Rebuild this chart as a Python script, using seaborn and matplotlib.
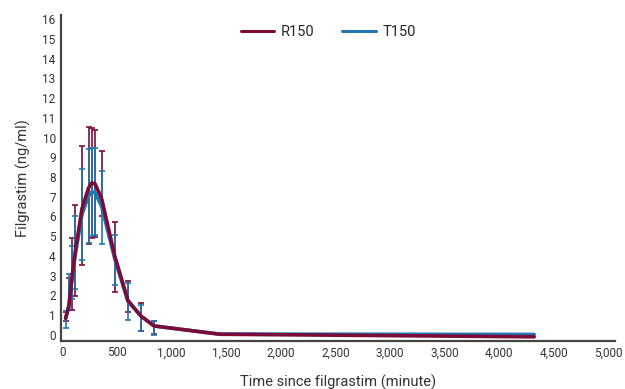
import numpy as np
import pandas as pd
import matplotlib
matplotlib.use("Agg")
import matplotlib.pyplot as plt
import seaborn as sns
from matplotlib.lines import Line2D

# ---- data ----
time_min = [30, 60, 90, 120, 180, 240, 270, 300, 360, 480, 600, 720, 840, 1440, 4320]

r150_mean = [0.85, 1.45, 3.0, 4.3, 6.4, 7.45, 7.7, 7.65, 6.9, 4.0, 1.75, 0.95, 0.45, 0.03, -0.1]
r150_low = [0.7, 1.25, 1.25, 1.95, 3.55, 4.6, 4.9, 4.95, 6.0, 2.15, 1.15, 0.2, 0.05, np.nan, np.nan]
r150_high = [1.15, 2.9, 4.9, 6.6, 9.55, 10.55, 10.5, 10.4, 9.3, 5.7, 2.75, 1.6, 0.72, np.nan, np.nan]

t150_mean = [0.8, 1.5, 2.9, 4.1, 6.1, 7.05, 7.25, 7.2, 6.5, 3.85, 1.7, 0.95, 0.45, 0.04, 0.02]
t150_low = [0.37, 1.3, 1.8, 2.3, 3.8, 4.65, 5.0, 5.05, 4.6, 2.55, 0.75, 0.17, 0.0, np.nan, np.nan]
t150_high = [1.2, 3.1, 4.5, 6.0, 8.4, 9.4, 9.45, 9.45, 8.3, 5.05, 2.65, 1.5, 0.7, np.nan, np.nan]

series_names = ["R150", "T150"]
colors = {"R150": "#7B0C3A", "T150": "#2277B0"}

x_ticks = [0, 500, 1000, 1500, 2000, 2500, 3000, 3500, 4000, 4500, 5000]
y_ticks = list(range(0, 17))

# ---- figure ----
sns.set_theme(style="white")
plt.rcParams["font.family"] = ["Roboto", "DejaVu Sans"]

fig = plt.figure(figsize=(6.25, 3.89), dpi=100)
ax = fig.add_axes([0.098, 0.124, 0.886, 0.837])

df = pd.DataFrame({
    "time": time_min * 2,
    "conc": r150_mean + t150_mean,
    "series": ["R150"] * len(time_min) + ["T150"] * len(time_min),
})

# error bars: red first, blue over it
for name, mean, lo, hi in [("R150", r150_mean, r150_low, r150_high),
                           ("T150", t150_mean, t150_low, t150_high)]:
    m = np.array(mean, dtype=float)
    l = np.array(lo, dtype=float)
    h = np.array(hi, dtype=float)
    ok = ~np.isnan(l)
    t = np.array(time_min, dtype=float)[ok]
    yerr = np.vstack([m[ok] - l[ok], h[ok] - m[ok]])
    ax.errorbar(t, m[ok], yerr=yerr, fmt="none", ecolor=colors[name],
                elinewidth=1.2, capsize=2.5, capthick=1.2, zorder=2)

# lines: blue under red
sns.lineplot(data=df, x="time", y="conc", hue="series",
             hue_order=["T150", "R150"], palette=colors, linewidth=2.6,
             ax=ax, legend=False, zorder=3, sort=True)

# legend
handles = [Line2D([0], [0], color=colors[n], lw=2.2) for n in series_names]
ax.legend(handles, series_names, loc="upper center", ncol=2, frameon=False,
          bbox_to_anchor=(0.482, 1.01), fontsize=10.5, handlelength=2.3,
          columnspacing=1.9, handletextpad=0.45)

ax.set_xlim(-10, 5060)
ax.set_ylim(-0.3, 16.2)
ax.set_xticks(x_ticks)
ax.set_xticklabels([f"{v:,}" for v in x_ticks])
ax.set_yticks(y_ticks)
ax.tick_params(axis="both", length=0, labelsize=8.5, colors="#333333", pad=4)

ax.set_xlabel("Time since filgrastim (minute)", fontsize=10.5, color="#333333", labelpad=11)
ax.set_ylabel("Filgrastim (ng/ml)", fontsize=10.5, color="#333333", labelpad=8)

for s in ["top", "right"]:
    ax.spines[s].set_visible(False)
for s in ["left", "bottom"]:
    ax.spines[s].set_color("#444444")
    ax.spines[s].set_linewidth(1.6)

fig.savefig("out.png", dpi=100)
